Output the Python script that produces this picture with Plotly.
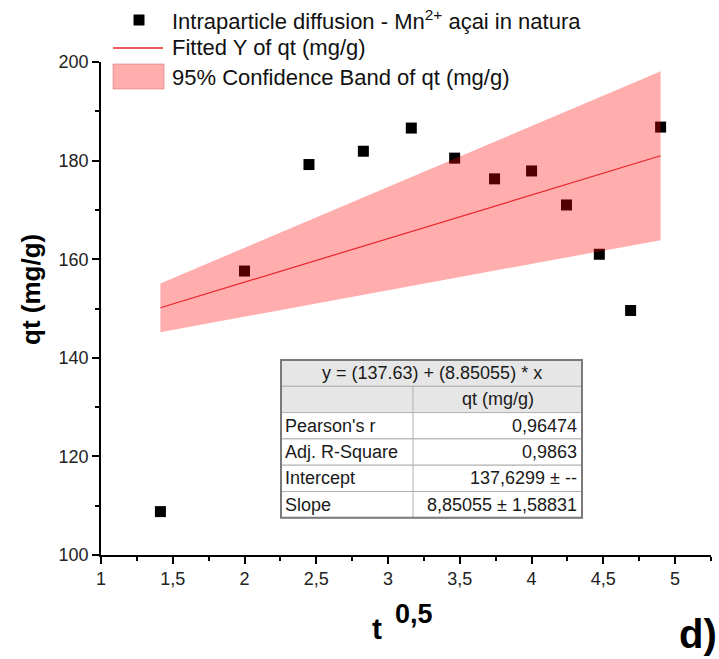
import numpy as np
import plotly.graph_objects as go

# ---- data ----
x_sqrt_t = [1.414, 2.0, 2.449, 2.828, 3.162, 3.464, 3.742, 4.0, 4.243, 4.472, 4.690, 4.899]
qt = [108.8, 157.6, 179.2, 181.9, 186.6, 180.5, 176.3, 177.9, 171.0, 161.0, 149.6, 186.8]
intercept = 137.6299
slope = 8.85055
slope_se = 1.58831
t_crit = 2.201  # Student t, 95 %, df = 11

table_rows = [
    ["Pearson's r", "0,96474"],
    ["Adj. R-Square", "0,9863"],
    ["Intercept", "137,6299 ± --"],
    ["Slope", "8,85055 ± 1,58831"],
]
eq_text = "y = (137.63) + (8.85055) * x"
col_header = "qt (mg/g)"
legend_names = [
    "Intraparticle diffusion - Mn<sup>2+</sup> açai in natura",
    "Fitted Y of qt (mg/g)",
    "95% Confidence Band of qt (mg/g)",
]

# ---- fit + band ----
xf = np.linspace(min(x_sqrt_t), max(x_sqrt_t), 100)
yf = intercept + slope * xf
hw = t_crit * slope_se * xf
upper = yf + hw
lower = yf - hw

W, H = 719, 659
L, R, T, B = 101, 8, 62, 104
pw, ph = W - L - R, H - T - B


def px(xp):
    return (xp - L) / pw


def py(yp):
    return (H - B - yp) / ph


FONT = "Liberation Sans, Arial, sans-serif"
BAND = "rgba(255,0,0,0.32)"
LINE = "#e8232a"

fig = go.Figure()
fig.add_trace(go.Scatter(
    x=x_sqrt_t, y=qt, mode="markers",
    marker=dict(symbol="square", size=11, color="black"),
    name=legend_names[0], showlegend=False,
))
fig.add_trace(go.Scatter(
    x=np.concatenate([xf, xf[::-1]]), y=np.concatenate([upper, lower[::-1]]),
    fill="toself", fillcolor=BAND, line=dict(width=0),
    mode="lines", name=legend_names[2], showlegend=False, hoverinfo="skip",
))
fig.add_trace(go.Scatter(
    x=xf, y=yf, mode="lines", line=dict(color=LINE, width=1.2),
    name=legend_names[1], showlegend=False,
))

shapes = []
annotations = []

# ---- legend (drawn) ----
lfont = dict(family=FONT, size=22, color="#111111")
rows_y = [20, 48, 77]
shapes.append(dict(type="rect", xref="paper", yref="paper",
                   x0=px(133.5), x1=px(144.5), y0=py(25.5), y1=py(14.5),
                   fillcolor="black", line=dict(width=0)))
shapes.append(dict(type="line", xref="paper", yref="paper",
                   x0=px(113), x1=px(163), y0=py(48), y1=py(48),
                   line=dict(color=LINE, width=1.5)))
shapes.append(dict(type="rect", xref="paper", yref="paper",
                   x0=px(113), x1=px(164), y0=py(89), y1=py(64),
                   fillcolor=BAND, line=dict(color="rgba(220,120,120,0.6)", width=1)))
for name, yc in zip(legend_names, rows_y):
    annotations.append(dict(xref="paper", yref="paper", x=px(170), y=py(yc), text=name,
                            showarrow=False, font=lfont, xanchor="left", yanchor="middle"))

# ---- table ----
tl, tr, tc = 281, 582, 413
tt, rh = 360, 26.3
nrows = 6
for i in range(nrows):
    y0 = tt + i * rh
    y1 = y0 + rh
    fill = "#e6e6e6" if i < 2 else "white"
    shapes.append(dict(type="rect", xref="paper", yref="paper",
                       x0=px(tl), x1=px(tr), y0=py(y1), y1=py(y0),
                       fillcolor=fill, line=dict(color="#b0b0b0", width=1), layer="above"))
    if i >= 1:
        shapes.append(dict(type="line", xref="paper", yref="paper",
                           x0=px(tc), x1=px(tc), y0=py(y1), y1=py(y0),
                           line=dict(color="#b0b0b0", width=1), layer="above"))
shapes.append(dict(type="rect", xref="paper", yref="paper",
                   x0=px(tl), x1=px(tr), y0=py(tt + nrows * rh), y1=py(tt),
                   line=dict(color="#7a7a7a", width=2), layer="above"))

tfont = dict(family=FONT, size=18, color="#1a1a1a")
annotations.append(dict(xref="paper", yref="paper", x=px((tl + tr) / 2), y=py(tt + rh / 2),
                        text=eq_text, showarrow=False, font=tfont, xanchor="center", yanchor="middle"))
annotations.append(dict(xref="paper", yref="paper", x=px((tc + tr) / 2), y=py(tt + 1.5 * rh),
                        text=col_header, showarrow=False, font=tfont, xanchor="center", yanchor="middle"))
for k, (lab, val) in enumerate(table_rows):
    yc = tt + (2 + k + 0.5) * rh
    annotations.append(dict(xref="paper", yref="paper", x=px(tl + 2), y=py(yc), text=lab,
                            showarrow=False, font=tfont, xanchor="left", yanchor="middle"))
    annotations.append(dict(xref="paper", yref="paper", x=px(tr - 3), y=py(yc), text=val,
                            showarrow=False, font=tfont, xanchor="right", yanchor="middle"))

# ---- axis titles and panel label ----
annotations.append(dict(xref="paper", yref="paper", x=px(31), y=py(290), text="<b>qt (mg/g)</b>",
                        textangle=-90, showarrow=False, font=dict(family=FONT, size=26, color="black"),
                        xanchor="center", yanchor="middle"))
annotations.append(dict(xref="paper", yref="paper", x=px(377), y=py(628), text="<b>t</b>",
                        showarrow=False, font=dict(family=FONT, size=30, color="black"),
                        xanchor="center", yanchor="middle"))
annotations.append(dict(xref="paper", yref="paper", x=px(414), y=py(614), text="<b>0,5</b>",
                        showarrow=False, font=dict(family=FONT, size=27, color="black"),
                        xanchor="center", yanchor="middle"))
annotations.append(dict(xref="paper", yref="paper", x=px(698), y=py(634), text="<b>d)</b>",
                        showarrow=False, font=dict(family=FONT, size=40, color="black"),
                        xanchor="center", yanchor="middle"))

fig.update_layout(
    width=W, height=H,
    margin=dict(l=L, r=R, t=T, b=B, pad=0),
    paper_bgcolor="white", plot_bgcolor="white",
    font=dict(family=FONT, size=18, color="#222222"),
    shapes=shapes, annotations=annotations, showlegend=False,
    xaxis=dict(range=[1, 5.25], tickmode="linear", tick0=1, dtick=0.5,
               ticks="outside", ticklen=7, tickwidth=1.5, tickcolor="black",
               showline=True, linecolor="black", linewidth=1.5, showgrid=False, zeroline=False,
               tickformat=".1~f",
               minor=dict(ticks="outside", ticklen=4, tickwidth=1.5, tickcolor="black", dtick=0.25),
               tickfont=dict(family=FONT, size=18, color="#222222")),
    yaxis=dict(range=[100, 200], tickmode="linear", tick0=100, dtick=20,
               ticks="outside", ticklen=7, tickwidth=1.5, tickcolor="black",
               showline=True, linecolor="black", linewidth=1.5, showgrid=False, zeroline=False,
               minor=dict(ticks="outside", ticklen=4, tickwidth=1.5, tickcolor="black", dtick=10),
               tickfont=dict(family=FONT, size=18, color="#222222")),
    separators=",.",
)

fig.write_html("out.html")
